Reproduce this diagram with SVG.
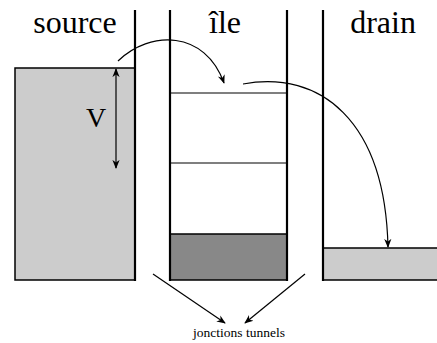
<svg xmlns="http://www.w3.org/2000/svg" width="437" height="343" viewBox="0 0 437 343">
<style>
.wall{stroke:#000;stroke-width:2.2;fill:none}
.c{stroke:#000;stroke-width:1.2;fill:none}
.t{font-family:"Liberation Serif","Times New Roman",serif;fill:#000}
</style>
<defs>
<marker id="ah" viewBox="0 0 10 10" refX="9" refY="5" markerWidth="9" markerHeight="9" markerUnits="userSpaceOnUse" orient="auto-start-reverse">
<path d="M0,1 L10,5 L0,9 L3,5 Z" fill="#000"/>
</marker>
</defs>
<rect width="437" height="343" fill="#fff"/>
<g id="source">
<rect x="15" y="68" width="120" height="212" fill="#cccccc" stroke="#000" stroke-width="1.5"/>
<text class="t" x="75" y="33" font-size="32" text-anchor="middle">source</text>
<text class="t" x="96" y="127" font-size="28" text-anchor="middle">V</text>
</g>
<g id="ile">
<rect x="170" y="234" width="117" height="46" fill="#888888" stroke="#000" stroke-width="1.5"/>
<line x1="170" y1="93" x2="287" y2="93" stroke="#000" stroke-width="1.2"/>
<line x1="170" y1="163" x2="287" y2="163" stroke="#000" stroke-width="1.2"/>
<text class="t" x="225" y="33" font-size="32" text-anchor="middle">île</text>
</g>
<g id="drain">
<rect x="323" y="248" width="116" height="32" fill="#cccccc" stroke="#000" stroke-width="1.5"/>
<text class="t" x="383" y="33" font-size="32" text-anchor="middle">drain</text>
</g>
<g id="walls">
<line class="wall" x1="135" y1="10" x2="135" y2="281"/>
<line class="wall" x1="170" y1="10" x2="170" y2="281"/>
<line class="wall" x1="287" y1="10" x2="287" y2="281"/>
<line class="wall" x1="323" y1="10" x2="323" y2="281"/>
</g>
<g id="label">
<text class="t" x="239" y="337" font-size="13.5" text-anchor="middle">jonctions tunnels</text>
</g>
<g id="connectors">
<line class="c" x1="116" y1="69" x2="116" y2="168" marker-start="url(#ah)" marker-end="url(#ah)"/>
<path class="c" d="M118,61 C150,30 205,30 224,83" marker-end="url(#ah)"/>
<path class="c" d="M243,84 C320,70 385,120 388,247" marker-end="url(#ah)"/>
<line class="c" x1="153" y1="274" x2="225" y2="323" marker-end="url(#ah)"/>
<line class="c" x1="305" y1="274" x2="245" y2="323" marker-end="url(#ah)"/>
</g>
</svg>
